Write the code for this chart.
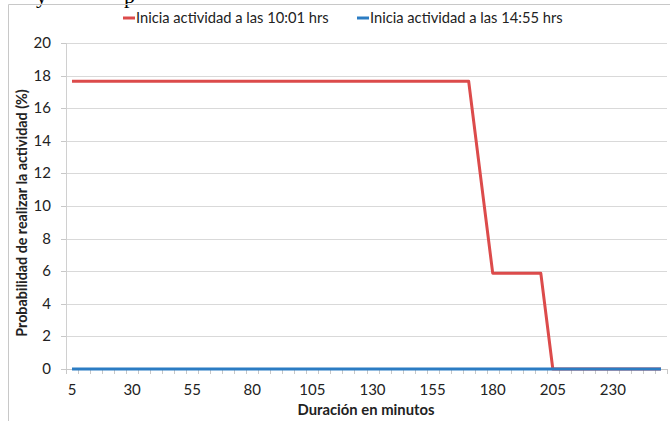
<!DOCTYPE html>
<html>
<head>
<meta charset="utf-8">
<script src="https://cdn.jsdelivr.net/npm/d3@7"></script>
<style>
  body { margin: 0; background: #fff; }
  svg { display: block; }
</style>
</head>
<body>
<div id="chart"></div>
<script>
const duracion = [5, 10, 15, 20, 25, 30, 35, 40, 45, 50, 55, 60, 65, 70, 75, 80, 85, 90, 95, 100,
  105, 110, 115, 120, 125, 130, 135, 140, 145, 150, 155, 160, 165, 170, 175, 180, 185, 190, 195, 200,
  205, 210, 215, 220, 225, 230, 235, 240, 245, 250]

const inicio1001 = [17.65, 17.65, 17.65, 17.65, 17.65, 17.65, 17.65, 17.65, 17.65, 17.65,
  17.65, 17.65, 17.65, 17.65, 17.65, 17.65, 17.65, 17.65, 17.65, 17.65,
  17.65, 17.65, 17.65, 17.65, 17.65, 17.65, 17.65, 17.65, 17.65, 17.65,
  17.65, 17.65, 17.65, 17.65, 11.76, 5.88, 5.88, 5.88, 5.88, 5.88,
  0, 0, 0, 0, 0, 0, 0, 0, 0, 0]

const inicio1455 = [0, 0, 0, 0, 0, 0, 0, 0, 0, 0,
  0, 0, 0, 0, 0, 0, 0, 0, 0, 0,
  0, 0, 0, 0, 0, 0, 0, 0, 0, 0,
  0, 0, 0, 0, 0, 0, 0, 0, 0, 0,
  0, 0, 0, 0, 0, 0, 0, 0, 0, 0]

const xTickLabels = [5, 30, 55, 80, 105, 130, 155, 180, 205, 230]
const yTicks = [0, 2, 4, 6, 8, 10, 12, 14, 16, 18, 20]

const series = [
  {name: 'Inicia actividad a las 10:01 hrs', values: inicio1001, color: '#dc4b4b'},
  {name: 'Inicia actividad a las 14:55 hrs', values: inicio1455, color: '#2b7cc3'},
]

const canvasWidth = 670
const canvasHeight = 421
const plot = {left: 66, right: 667, top: 43, bottom: 369}
const font = 'Lato, "Open Sans", sans-serif'

const svg = d3
  .select('#chart')
  .append('svg')
  .attr('width', canvasWidth)
  .attr('height', canvasHeight)

// fragment of document text above the chart (cut off as in the page)
svg
  .append('text')
  .attr('x', 36)
  .attr('y', 3)
  .attr('font-family', '"Liberation Serif", serif')
  .attr('font-size', 22)
  .attr('fill', '#000')
  .text('y')
svg
  .append('text')
  .attr('x', 124)
  .attr('y', 3)
  .attr('font-family', '"Liberation Serif", serif')
  .attr('font-size', 22)
  .attr('fill', '#000')
  .text('p')

// chart border
svg
  .append('path')
  .attr('d', `M8.5,${canvasHeight} V4.5 H${canvasWidth}`)
  .attr('fill', 'none')
  .attr('stroke', '#c8c8c8')
  .attr('stroke-width', 1)

const xScale = d3
  .scaleBand()
  .domain(duracion)
  .range([plot.left, plot.right])
  .padding(0)

const yScale = d3
  .scaleLinear()
  .domain([0, 20])
  .range([plot.bottom, plot.top])

const xMid = d => xScale(d) + xScale.bandwidth() / 2

// horizontal gridlines
svg
  .append('g')
  .selectAll('line')
  .data(yTicks.filter(t => t > 0))
  .enter()
  .append('line')
  .attr('x1', plot.left)
  .attr('x2', plot.right)
  .attr('y1', d => Math.round(yScale(d)) + 0.5)
  .attr('y2', d => Math.round(yScale(d)) + 0.5)
  .attr('stroke', '#d9d9d9')

// y axis line and ticks
svg
  .append('line')
  .attr('x1', plot.left + 0.5)
  .attr('x2', plot.left + 0.5)
  .attr('y1', plot.top)
  .attr('y2', plot.bottom)
  .attr('stroke', '#d0d0d0')

svg
  .append('g')
  .selectAll('line')
  .data(yTicks)
  .enter()
  .append('line')
  .attr('x1', plot.left - 5)
  .attr('x2', plot.left)
  .attr('y1', d => Math.round(yScale(d)) + 0.5)
  .attr('y2', d => Math.round(yScale(d)) + 0.5)
  .attr('stroke', '#c8c8c8')

svg
  .append('g')
  .selectAll('text')
  .data(yTicks)
  .enter()
  .append('text')
  .attr('x', 51)
  .attr('y', d => yScale(d) + 5)
  .attr('text-anchor', 'end')
  .attr('font-family', font)
  .attr('font-size', 15)
  .attr('fill', '#222')
  .text(d => d)

// x axis line and ticks between categories
svg
  .append('line')
  .attr('x1', plot.left)
  .attr('x2', plot.right)
  .attr('y1', plot.bottom + 0.5)
  .attr('y2', plot.bottom + 0.5)
  .attr('stroke', '#c8c8c8')

const edges = duracion.map(d => xScale(d)).concat([plot.right])
svg
  .append('g')
  .selectAll('line')
  .data(edges)
  .enter()
  .append('line')
  .attr('x1', d => Math.round(d) + 0.5)
  .attr('x2', d => Math.round(d) + 0.5)
  .attr('y1', plot.bottom)
  .attr('y2', plot.bottom + 5)
  .attr('stroke', '#c8c8c8')

svg
  .append('g')
  .selectAll('text')
  .data(xTickLabels)
  .enter()
  .append('text')
  .attr('x', d => xMid(d))
  .attr('y', 395)
  .attr('text-anchor', 'middle')
  .attr('font-family', font)
  .attr('font-size', 15)
  .attr('fill', '#222')
  .text(d => d)

// lines
const line = d3
  .line()
  .x((v, i) => xMid(duracion[i]))
  .y(v => yScale(v))

svg
  .append('g')
  .selectAll('path')
  .data(series)
  .enter()
  .append('path')
  .attr('d', s => line(s.values))
  .attr('fill', 'none')
  .attr('stroke', s => s.color)
  .attr('stroke-width', 3)
  .attr('stroke-linejoin', 'round')

// axis titles
svg
  .append('text')
  .attr('x', 366)
  .attr('y', 415)
  .attr('text-anchor', 'middle')
  .attr('font-family', font)
  .attr('font-weight', 'bold')
  .attr('font-size', 14.8)
  .attr('fill', '#222')
  .text('Duración en minutos')

svg
  .append('text')
  .attr('transform', 'translate(27, 213) rotate(-90)')
  .attr('text-anchor', 'middle')
  .attr('font-family', font)
  .attr('font-weight', 'bold')
  .attr('font-size', 14.3)
  .attr('fill', '#222')
  .text('Probabilidad de realizar la actividad (%)')

// legend
const legendX = [123, 357]
const legend = svg
  .append('g')
  .selectAll('g')
  .data(series)
  .enter()
  .append('g')
  .attr('transform', (s, i) => `translate(${legendX[i]}, 18)`)

legend
  .append('line')
  .attr('x1', 0)
  .attr('x2', 12)
  .attr('stroke', s => s.color)
  .attr('stroke-width', 3)

legend
  .append('text')
  .attr('x', 13)
  .attr('y', 5)
  .attr('font-family', font)
  .attr('font-size', 14.7)
  .attr('fill', '#222')
  .text(s => s.name)
</script>
</body>
</html>
